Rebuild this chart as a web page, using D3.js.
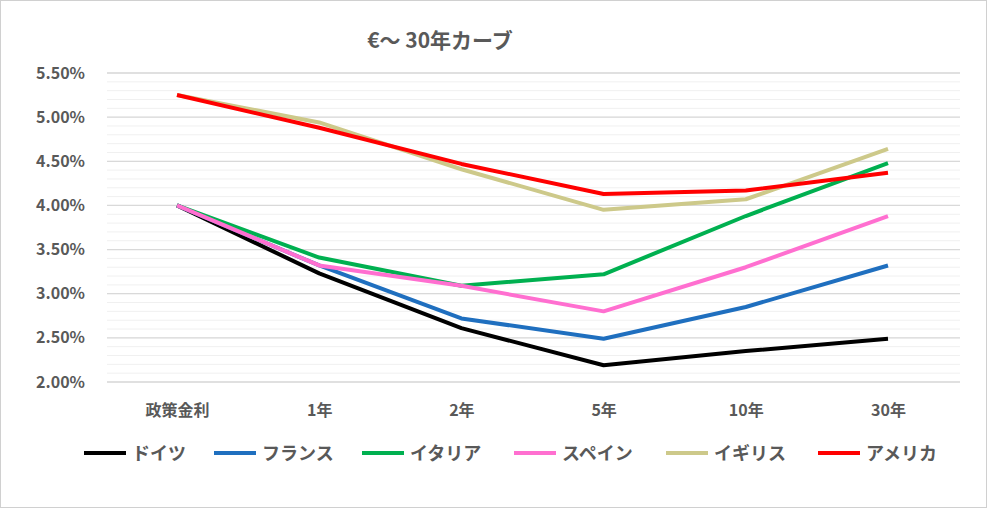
<!DOCTYPE html>
<html><head><meta charset="utf-8">
<script src="https://cdn.jsdelivr.net/npm/d3@7"></script>
<style>body{margin:0;background:#fff;font-family:"Noto Sans CJK JP",sans-serif}</style>
</head><body>
<svg id="c" width="987" height="508"></svg>
<script>
var categories = ["政策金利", "1年", "2年", "5年", "10年", "30年"];
var seriesNames = ["ドイツ", "フランス", "イタリア", "スペイン", "イギリス", "アメリカ"];
var seriesColors = ["#000000", "#1f6fbf", "#00b050", "#ff6fd0", "#cdc98a", "#ff0000"];
var germany = [4.00, 3.23, 2.61, 2.19, 2.35, 2.49];
var france = [4.00, 3.32, 2.72, 2.49, 2.85, 3.32];
var italy = [4.00, 3.41, 3.09, 3.22, 3.88, 4.48];
var spain = [4.00, 3.32, 3.09, 2.80, 3.30, 3.88];
var uk = [5.25, 4.94, 4.41, 3.95, 4.07, 4.64];
var us = [5.25, 4.88, 4.47, 4.13, 4.17, 4.37];
var values = [germany, france, italy, spain, uk, us];
var yTicks = [2.0, 2.5, 3.0, 3.5, 4.0, 4.5, 5.0, 5.5];

var svg = d3.select("#c");
svg.append("rect").attr("x", 0.5).attr("y", 0.5).attr("width", 986).attr("height", 507)
  .attr("fill", "#fff").attr("stroke", "#d0d0d0");

var x = d3.scalePoint().domain(categories).range([177, 888]);
var y = d3.scaleLinear().domain([2.0, 5.5]).range([382, 73]);

// minor gridlines
var minor = d3.range(20, 56).map(function (d) { return d / 10; });
svg.append("g").selectAll("line").data(minor).enter().append("line")
  .attr("x1", 107).attr("x2", 960)
  .attr("y1", function (d) { return y(d); }).attr("y2", function (d) { return y(d); })
  .attr("stroke", "#f0f0f0").attr("stroke-width", 1);
svg.append("g").selectAll("line").data(yTicks).enter().append("line")
  .attr("x1", 107).attr("x2", 960)
  .attr("y1", function (d) { return y(d); }).attr("y2", function (d) { return y(d); })
  .attr("stroke", "#d9d9d9").attr("stroke-width", 1.3);

var yAxis = d3.axisLeft(y).tickValues(yTicks).tickSize(0).tickPadding(8)
  .tickFormat(function (d) { return d.toFixed(2) + "%"; });
svg.append("g").attr("transform", "translate(93,0)").call(yAxis)
  .call(function (g) { g.select(".domain").remove(); })
  .selectAll("text").attr("font-size", 16).attr("font-weight", "bold").attr("fill", "#595959")
  .attr("font-family", "Noto Sans CJK JP");

var xAxis = d3.axisBottom(x).tickSize(0).tickPadding(0);
svg.append("g").attr("transform", "translate(0,405)").call(xAxis)
  .call(function (g) { g.select(".domain").remove(); })
  .selectAll("text").attr("font-size", 16).attr("font-weight", "bold").attr("fill", "#595959")
  .attr("font-family", "Noto Sans CJK JP");

var line = d3.line().x(function (d, i) { return x(categories[i]); }).y(function (d) { return y(d); });
values.forEach(function (v, i) {
  svg.append("path").datum(v).attr("d", line).attr("fill", "none")
    .attr("stroke", seriesColors[i]).attr("stroke-width", 4).attr("stroke-linejoin", "round");
});

svg.append("text").attr("x", 440).attr("y", 48).attr("text-anchor", "middle")
  .attr("font-size", 21).attr("font-weight", "bold").attr("fill", "#595959")
  .text("€～ 30年カーブ");

// legend
var legendX = [84, 214, 362, 514, 666, 818];
var lg = svg.append("g").selectAll("g").data(seriesNames).enter().append("g")
  .attr("transform", function (d, i) { return "translate(" + legendX[i] + ",453)"; });
lg.append("line").attr("x1", 0).attr("x2", 42).attr("stroke", function (d, i) { return seriesColors[i]; })
  .attr("stroke-width", 4);
lg.append("text").attr("x", 48).attr("y", 7).attr("font-size", 18).attr("font-weight", "bold")
  .attr("fill", "#595959").text(function (d) { return d; });
</script>
</body></html>
